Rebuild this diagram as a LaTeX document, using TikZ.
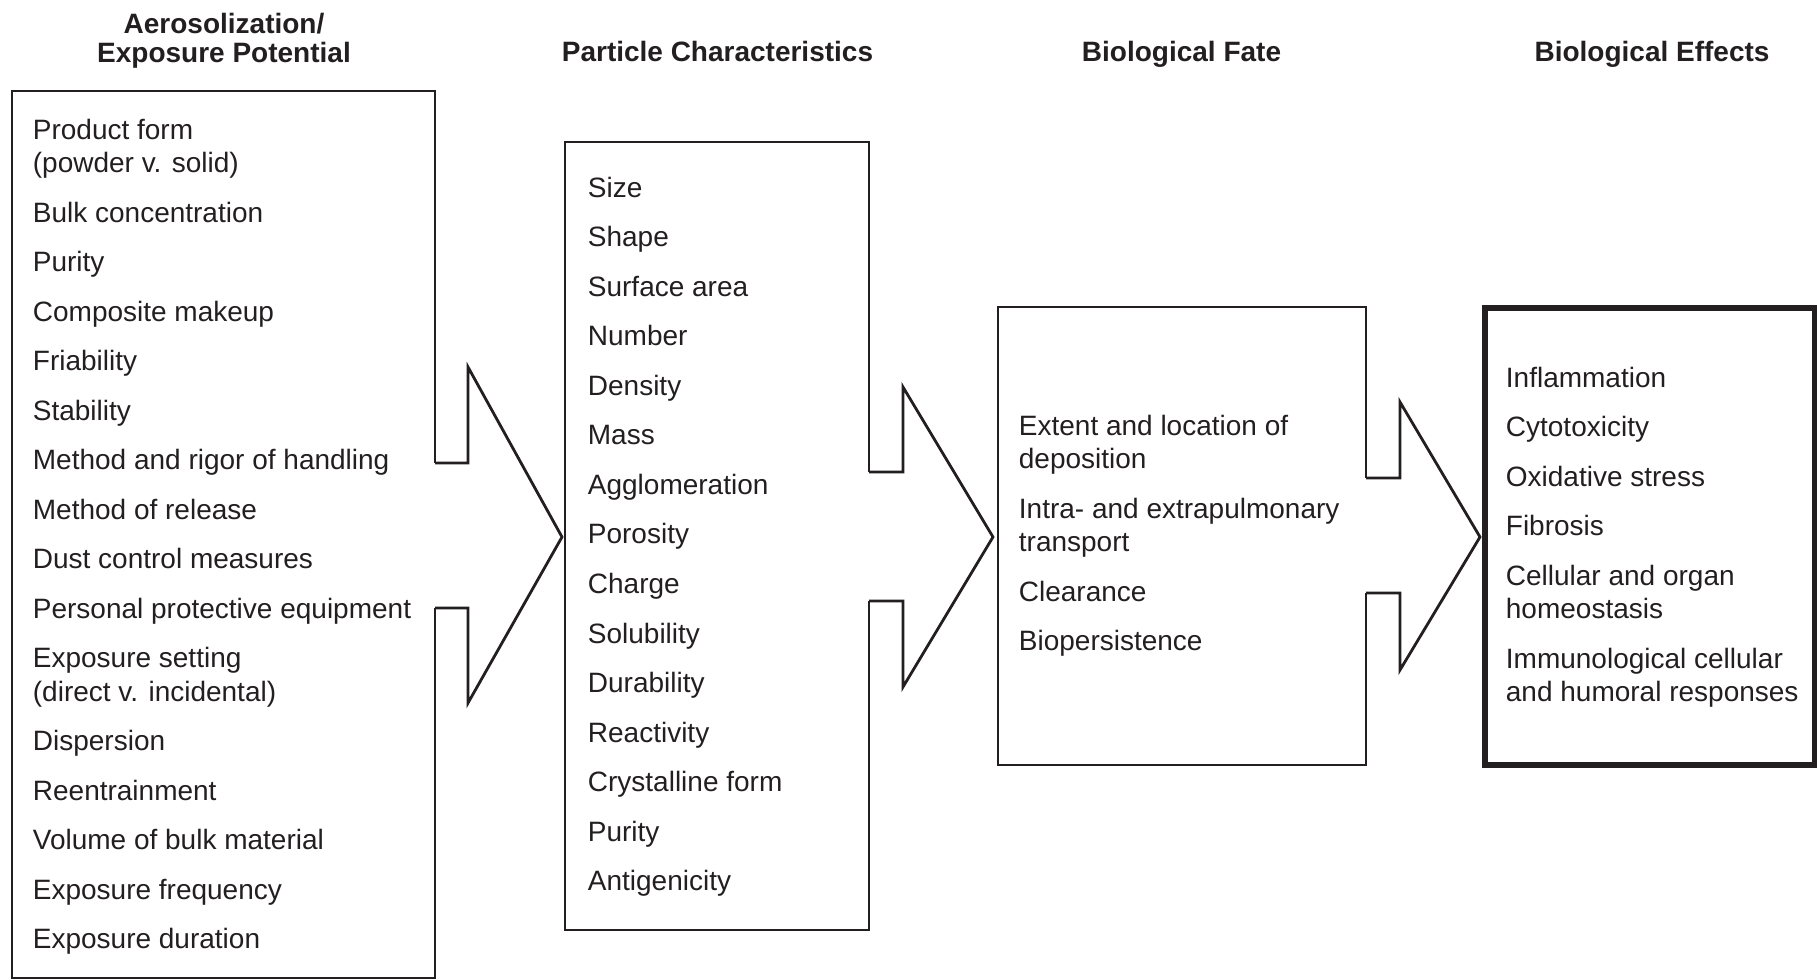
\documentclass[tikz,border=0pt]{standalone}
\usepackage{fontspec}
\setmainfont{Liberation Sans}
\definecolor{ink}{HTML}{231F20}
\tikzset{
  outline/.style={line width=1.4pt, draw=ink, line join=miter},
  thickoutline/.style={line width=2.6pt, draw=ink, line join=miter},
  item/.style={anchor=base west, inner sep=0pt, text=ink, font=\fontsize{14pt}{16.75pt}\selectfont},
  head/.style={anchor=base, inner sep=0pt, text=ink, font=\bfseries\fontsize{14pt}{17pt}\selectfont},
}
\begin{document}
\begin{tikzpicture}[x=0.5pt, y=-0.5pt]
\useasboundingbox (0,0) rectangle (1817,980);

% headings
\node[head] (h1a) at (224,33) {Aerosolization/};
\node[head] (h1b) at (224,62) {Exposure Potential};
\node[head] (h2) at (717.5,61.5) {Particle Characteristics};
\node[head] (h3) at (1181.5,61.5) {Biological Fate};
\node[head] (h4) at (1652,61.5) {Biological Effects};

% box corners
\coordinate (b1nw) at (12,91);   \coordinate (b1se) at (435,978);
\coordinate (b2nw) at (565,142); \coordinate (b2se) at (869,930);
\coordinate (b3nw) at (998,307); \coordinate (b3se) at (1366,765);
\coordinate (b4nw) at (1485,308); \coordinate (b4se) at (1815,765);

% box 1 with arrow 1
\draw[outline] (435,463) -- (b1se |- b1nw) -- (b1nw) -- (b1nw |- b1se) -- (b1se) -- (435,608);
\draw[outline] (435,463) -- (468,463) -- (468,367) -- (562,537) coordinate (t1)
  -- (468,703) -- (468,608) -- (435,608);

% box 2 with arrow 2
\draw[outline] (869,472) -- (b2se |- b2nw) -- (b2nw) -- (b2nw |- b2se) -- (b2se) -- (869,601);
\draw[outline] (869,472) -- (903,472) -- (903,387) -- (993,537) coordinate (t2)
  -- (903,687) -- (903,601) -- (869,601);

% box 3 with arrow 3
\draw[outline] (1366,478) -- (b3se |- b3nw) -- (b3nw) -- (b3nw |- b3se) -- (b3se) -- (1366,593);
\draw[outline] (1366,478) -- (1400,478) -- (1400,402) -- (1480,537) coordinate (t3)
  -- (1400,670) -- (1400,593) -- (1366,593);

% box 4
\draw[thickoutline] (b4nw) rectangle (b4se);

% box 1 items
\node[item] (a1)  at (32.5,139)   {Product form};
\node[item] (a1b) at (32.5,172.5) {(powder v. solid)};
\node[item] (a2)  at (32.5,222)   {Bulk concentration};
\node[item] (a3)  at (32.5,271.5) {Purity};
\node[item] (a4)  at (32.5,321)   {Composite makeup};
\node[item] (a5)  at (32.5,370.5) {Friability};
\node[item] (a6)  at (32.5,420)   {Stability};
\node[item] (a7)  at (32.5,469.5) {Method and rigor of handling};
\node[item] (a8)  at (32.5,519)   {Method of release};
\node[item] (a9)  at (32.5,568.5) {Dust control measures};
\node[item] (a10) at (32.5,618)   {Personal protective equipment};
\node[item] (a11) at (32.5,667.5) {Exposure setting};
\node[item] (a11b) at (32.5,701)  {(direct v. incidental)};
\node[item] (a12) at (32.5,750.5) {Dispersion};
\node[item] (a13) at (32.5,800)   {Reentrainment};
\node[item] (a14) at (32.5,849.5) {Volume of bulk material};
\node[item] (a15) at (32.5,899)   {Exposure frequency};
\node[item] (a16) at (32.5,948.5) {Exposure duration};

% box 2 items
\foreach \t [count=\i from 0] in {Size, Shape, Surface area, Number, Density, Mass,
  Agglomeration, Porosity, Charge, Solubility, Durability, Reactivity,
  Crystalline form, Purity, Antigenicity}
  \node[item] (p\i) at (587.5,{197+49.57*\i}) {\t};

% box 3 items
\node[item] (f1)  at (1018.5,435)   {Extent and location of};
\node[item] (f1b) at (1018.5,468.5) {deposition};
\node[item] (f2)  at (1018.5,518)   {Intra- and extrapulmonary};
\node[item] (f2b) at (1018.5,551.5) {transport};
\node[item] (f3)  at (1018.5,601)   {Clearance};
\node[item] (f4)  at (1018.5,650.5) {Biopersistence};

% box 4 items
\node[item] (e1)  at (1505.5,387)   {Inflammation};
\node[item] (e2)  at (1505.5,436.5) {Cytotoxicity};
\node[item] (e3)  at (1505.5,486)   {Oxidative stress};
\node[item] (e4)  at (1505.5,535.5) {Fibrosis};
\node[item] (e5)  at (1505.5,585)   {Cellular and organ};
\node[item] (e5b) at (1505.5,618.5) {homeostasis};
\node[item] (e6)  at (1505.5,668)   {Immunological cellular};
\node[item] (e6b) at (1505.5,701.5) {and humoral responses};
\end{tikzpicture}
\end{document}
